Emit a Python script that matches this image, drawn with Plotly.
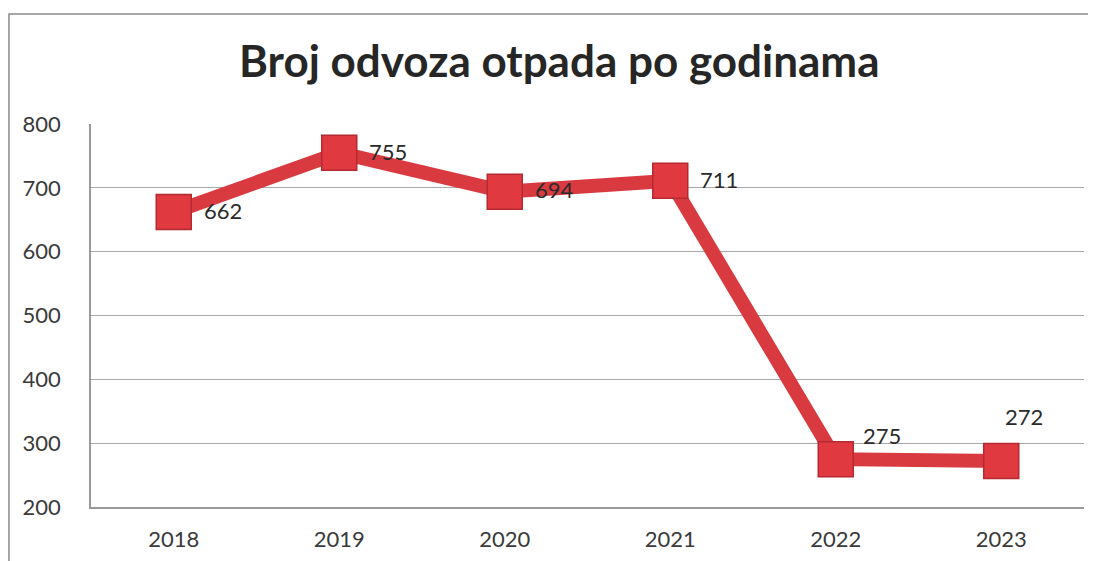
import plotly.graph_objects as go

years = ["2018", "2019", "2020", "2021", "2022", "2023"]
values = [662, 755, 694, 711, 275, 272]
label_dx = [28, 28, 28, 28, 25, 2]
label_dy = [2, 1, 2, 1, 24, 45]
y_ticks = [200, 300, 400, 500, 600, 700, 800]

FONT = "Lato, Open Sans, sans-serif"
RED = "#d93a40"

fig = go.Figure()
fig.add_trace(go.Scatter(
    x=list(range(len(years))), y=values, mode="lines+markers",
    line=dict(color=RED, width=14),
    marker=dict(symbol="square", size=35, color="#e0393f",
                line=dict(color="#b52a30", width=1.5)),
    hoverinfo="skip", showlegend=False,
))

for i, v in enumerate(values):
    fig.add_annotation(x=i, y=v, xref="x", yref="y", text=str(v), showarrow=False,
                       xanchor="left", yanchor="middle",
                       xshift=label_dx[i], yshift=label_dy[i],
                       font=dict(family=FONT, size=22, color="#2a2a2a"))

# outer chart border (left and top visible)
fig.add_shape(type="rect", xref="paper", yref="paper",
              x0=-0.0826, x1=1.05, y0=-0.3, y1=1.287,
              line=dict(color="#8a8a8a", width=1.5), layer="below")

fig.update_layout(
    width=1096, height=561,
    margin=dict(l=83, r=20, t=116, b=62, autoexpand=False),
    paper_bgcolor="white", plot_bgcolor="white",
    title=dict(text="<b>Broj odvoza otpada po godinama</b>",
               x=0.503, xanchor="center", y=1 - 54 / 561, yanchor="middle",
               font=dict(family=FONT, size=44, color="#262626")),
    font=dict(family=FONT, size=20, color="#3a3a3a"),
)
fig.update_xaxes(range=[-0.5, 5.5], showgrid=False,
                 tickvals=list(range(len(years))), ticktext=years,
                 showline=True, linecolor="#9a9a9a", linewidth=1.5,
                 ticks="", ticklabelstandoff=12, zeroline=False,
                 tickfont=dict(family=FONT, size=22, color="#3a3a3a"))
fig.update_yaxes(range=[200, 800], tickvals=y_ticks, showgrid=True,
                 gridcolor="#a8a8a8", gridwidth=1,
                 showline=True, linecolor="#9a9a9a", linewidth=1.5,
                 ticks="", ticklabelstandoff=24, zeroline=False,
                 tickfont=dict(family=FONT, size=22, color="#3a3a3a"))

fig.write_html("out.html")
